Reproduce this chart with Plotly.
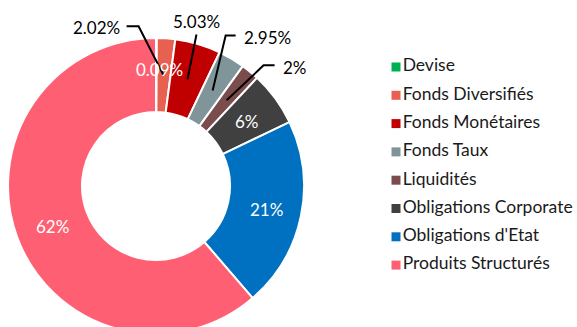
import math
import plotly.graph_objects as go

# Portfolio allocation by asset class
categories = [
    "Devise", "Fonds Diversifiés", "Fonds Monétaires", "Fonds Taux",
    "Liquidités", "Obligations Corporate", "Obligations d'Etat", "Produits Structurés",
]
weights = [0.09, 2.02, 5.03, 2.95, 2, 6, 21, 62]
weight_labels = ["0.09%", "2.02%", "5.03%", "2.95%", "2%", "6%", "21%", "62%"]
colors = ["#00B050", "#E8604F", "#C00000", "#7F9599",
          "#7A4C4C", "#404040", "#0070C0", "#FE5F73"]

FONT = "Lato, 'Noto Sans', sans-serif"
W, H = 577, 340

# donut geometry in page pixels (y grows downwards)
CX, CY, R = 156, 186, 148
HOLE = 0.5
R_MID = R * (1 + HOLE) / 2

# labels printed on the ring (with a small nudge in pixels)
ring_labels = {0: (3, -6), 5: (1, 1), 6: (2, 1), 7: (1, 2)}

# leader line layout for called-out slices: elbow offset from the slice midpoint,
# horizontal tail length, and which side of the tail the label sits on
callouts = {
    1: dict(elbow=(-25, -49), tail=-12, side="right"),
    2: dict(elbow=(9, -45), tail=0, side="top"),
    3: dict(elbow=(13, -55), tail=10, side="left"),
    4: dict(elbow=(37, -35), tail=11, side="left"),
}

total = sum(weights)


def slice_mid(i):
    """Pixel position of the middle of slice i on the ring (clockwise from 12 o'clock)."""
    start = sum(weights[:i]) / total
    frac = start + weights[i] / total / 2
    a = 2 * math.pi * frac
    return CX + R_MID * math.sin(a), CY - R_MID * math.cos(a)


fig = go.Figure()

fig.add_trace(go.Pie(
    labels=categories,
    values=weights,
    text=weight_labels,
    textinfo="none",
    marker=dict(colors=colors, line=dict(color="white", width=2)),
    hole=HOLE,
    sort=False,
    direction="clockwise",
    rotation=0,
    showlegend=False,
    hoverinfo="label+text",
    domain=dict(
        x=[(CX - R) / W, (CX + R) / W],
        y=[(H - (CY + R)) / H, (H - (CY - R)) / H],
    ),
))

# percentages written on the ring
for i, (nx, ny) in ring_labels.items():
    mx, my = slice_mid(i)
    fig.add_annotation(x=mx + nx, y=my + ny, text=weight_labels[i], showarrow=False,
                       xref="x", yref="y", xanchor="center", yanchor="middle",
                       font=dict(family=FONT, size=17, color="white"))

# callouts with leader lines, drawn above the ring
for i, c in callouts.items():
    ax, ay = slice_mid(i)
    ex, ey = ax + c["elbow"][0], ay + c["elbow"][1]
    tx, ty = ex + c["tail"], ey
    fig.add_shape(
        type="path", xref="x", yref="y", layer="above",
        path=f"M {tx:.2f},{ty:.2f} L {ex:.2f},{ey:.2f} L {ax:.2f},{ay:.2f}",
        line=dict(color="black", width=2),
    )
    if c["side"] == "right":
        pos = dict(x=tx - 5, y=ty + 1, xanchor="right", yanchor="middle")
    elif c["side"] == "left":
        pos = dict(x=tx + 6, y=ty + 2, xanchor="left", yanchor="middle")
    else:
        pos = dict(x=tx, y=ty - 13, xanchor="center", yanchor="middle")
    fig.add_annotation(text=weight_labels[i], showarrow=False, xref="x", yref="y",
                       font=dict(family=FONT, size=17, color="black"), **pos)

# legend: colour squares with category names
LEG_X, LEG_Y0, LEG_STEP = 396, 67, 28.3
fig.add_trace(go.Scatter(
    x=[LEG_X] * len(categories),
    y=[LEG_Y0 + k * LEG_STEP for k in range(len(categories))],
    mode="markers+text",
    marker=dict(symbol="square", size=9, color=colors),
    text=categories,
    textposition="middle right",
    textfont=dict(family=FONT, size=17.5, color="#1a1a1a"),
    showlegend=False,
    hoverinfo="skip",
    cliponaxis=False,
))

fig.update_layout(
    width=W, height=H,
    margin=dict(l=0, r=0, t=0, b=0),
    paper_bgcolor="white", plot_bgcolor="rgba(0,0,0,0)",
    font=dict(family=FONT),
    xaxis=dict(range=[0, W], visible=False, fixedrange=True, domain=[0, 1]),
    yaxis=dict(range=[H, 0], visible=False, fixedrange=True, domain=[0, 1]),
    showlegend=False,
)

fig.write_html(
    "out.html",
    post_script="document.documentElement.style.overflow='hidden';"
                "document.body.style.overflow='hidden';document.body.style.margin='0';",
)
